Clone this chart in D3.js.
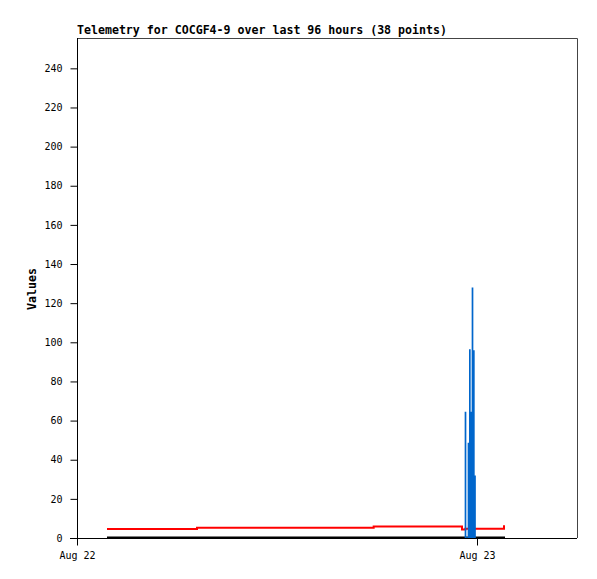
<!DOCTYPE html>
<html>
<head>
<meta charset="utf-8">
<script src="https://cdn.jsdelivr.net/npm/d3@7"></script>
<style>
  body { margin: 0; background: #fff; }
  svg { display: block; }
  text { font-family: "DejaVu Sans Mono", monospace; }
</style>
</head>
<body>
<svg id="chart" width="597" height="579"></svg>
<script>
// ---- data (hours since Aug 22 00:00) ----
const title = "Telemetry for COCGF4-9 over last 96 hours (38 points)";
const yLabel = "Values";
const yTicks = [0, 20, 40, 60, 80, 100, 120, 140, 160, 180, 200, 220, 240];
const xTickLabels = ["Aug 22", "Aug 23"];

const redTimes  = [1.8, 7.2, 17.8, 23.1, 23.3, 25.62, 25.68];
const redValues = [4.6, 5.2, 5.9, 4.3, 4.7, 6.0, 6.0];

const blackTimes  = [1.8, 25.68];
const blackValues = [0.3, 0.3];

const blueTimes  = [23.31, 23.49, 23.57, 23.64, 23.73, 23.81, 23.88];
const blueValues = [64.5, 48.7, 96.5, 64.5, 128, 96, 32];

// ---- layout ----
const svg = d3.select("#chart");
const mL = 77, mR = 577, mT = 38, mB = 538;
const t0 = Date.UTC(2024, 7, 22, 0, 0);
const hr = 3600 * 1000;
const toDate = h => new Date(t0 + h * hr);

const x = d3.scaleUtc().domain([toDate(0), toDate(30)]).range([mL, mR]);
const y = d3.scaleLinear().domain([0, 255.5]).range([mB, mT]);

// frame (top & right)
svg.append("path")
  .attr("d", `M${mL},${mT + 0.5}H${mR + 0.5}V${mB}`)
  .attr("fill", "none").attr("stroke", "#444").attr("stroke-width", 1);

// data lines
const blackPts = blackTimes.map((t, i) => [toDate(t), blackValues[i]]);
svg.append("path").datum(blackPts)
  .attr("d", d3.line().x(d => x(d[0])).y(d => y(d[1])))
  .attr("fill", "none").attr("stroke", "#000").attr("stroke-width", 2);

const redPts = redTimes.map((t, i) => [toDate(t), redValues[i]]);
svg.append("path").datum(redPts)
  .attr("d", d3.line().x(d => x(d[0])).y(d => y(d[1])).curve(d3.curveStepAfter))
  .attr("fill", "none").attr("stroke", "#ff0000").attr("stroke-width", 2);

const bluePts = [];
blueTimes.forEach((t, i) => {
  bluePts.push([toDate(t), 0], [toDate(t), blueValues[i]], [toDate(t), 0]);
});
svg.append("path").datum(bluePts)
  .attr("d", d3.line().x(d => x(d[0])).y(d => y(d[1])))
  .attr("fill", "none").attr("stroke", "#0066cc").attr("stroke-width", 1.7);

// axes
const yAxis = d3.axisLeft(y).tickValues(yTicks).tickSize(7).tickPadding(8);
const gy = svg.append("g").attr("transform", `translate(${mL + 0.5},0)`).call(yAxis);
gy.select(".domain").attr("d", `M0,${mT}V${mB + 7}`).attr("stroke", "#000");
gy.selectAll("text").attr("font-size", 10).attr("font-family", "DejaVu Sans Mono").attr("fill", "#000");
gy.selectAll(".tick line").attr("stroke", "#000");

const xTickDates = [toDate(0), toDate(24)];
const xAxis = d3.axisBottom(x).tickValues(xTickDates)
  .tickFormat((d, i) => xTickLabels[i]).tickSize(7).tickPadding(6);
const gx = svg.append("g").attr("transform", `translate(0,${mB + 0.5})`).call(xAxis);
gx.select(".domain").attr("d", `M${mL - 7},0H${mR}`).attr("stroke", "#000");
gx.selectAll("text").attr("font-size", 10).attr("font-family", "DejaVu Sans Mono").attr("fill", "#000");
gx.selectAll(".tick line").attr("stroke", "#000");

// title
svg.append("text").attr("x", mL).attr("y", 34)
  .attr("font-size", 11.6).attr("font-weight", "bold").attr("fill", "#000")
  .text(title);

// y label
svg.append("text").attr("transform", "translate(36,289) rotate(-90)")
  .attr("text-anchor", "middle")
  .attr("font-size", 11.6).attr("font-weight", "bold").attr("fill", "#000")
  .text(yLabel);
</script>
</body>
</html>
